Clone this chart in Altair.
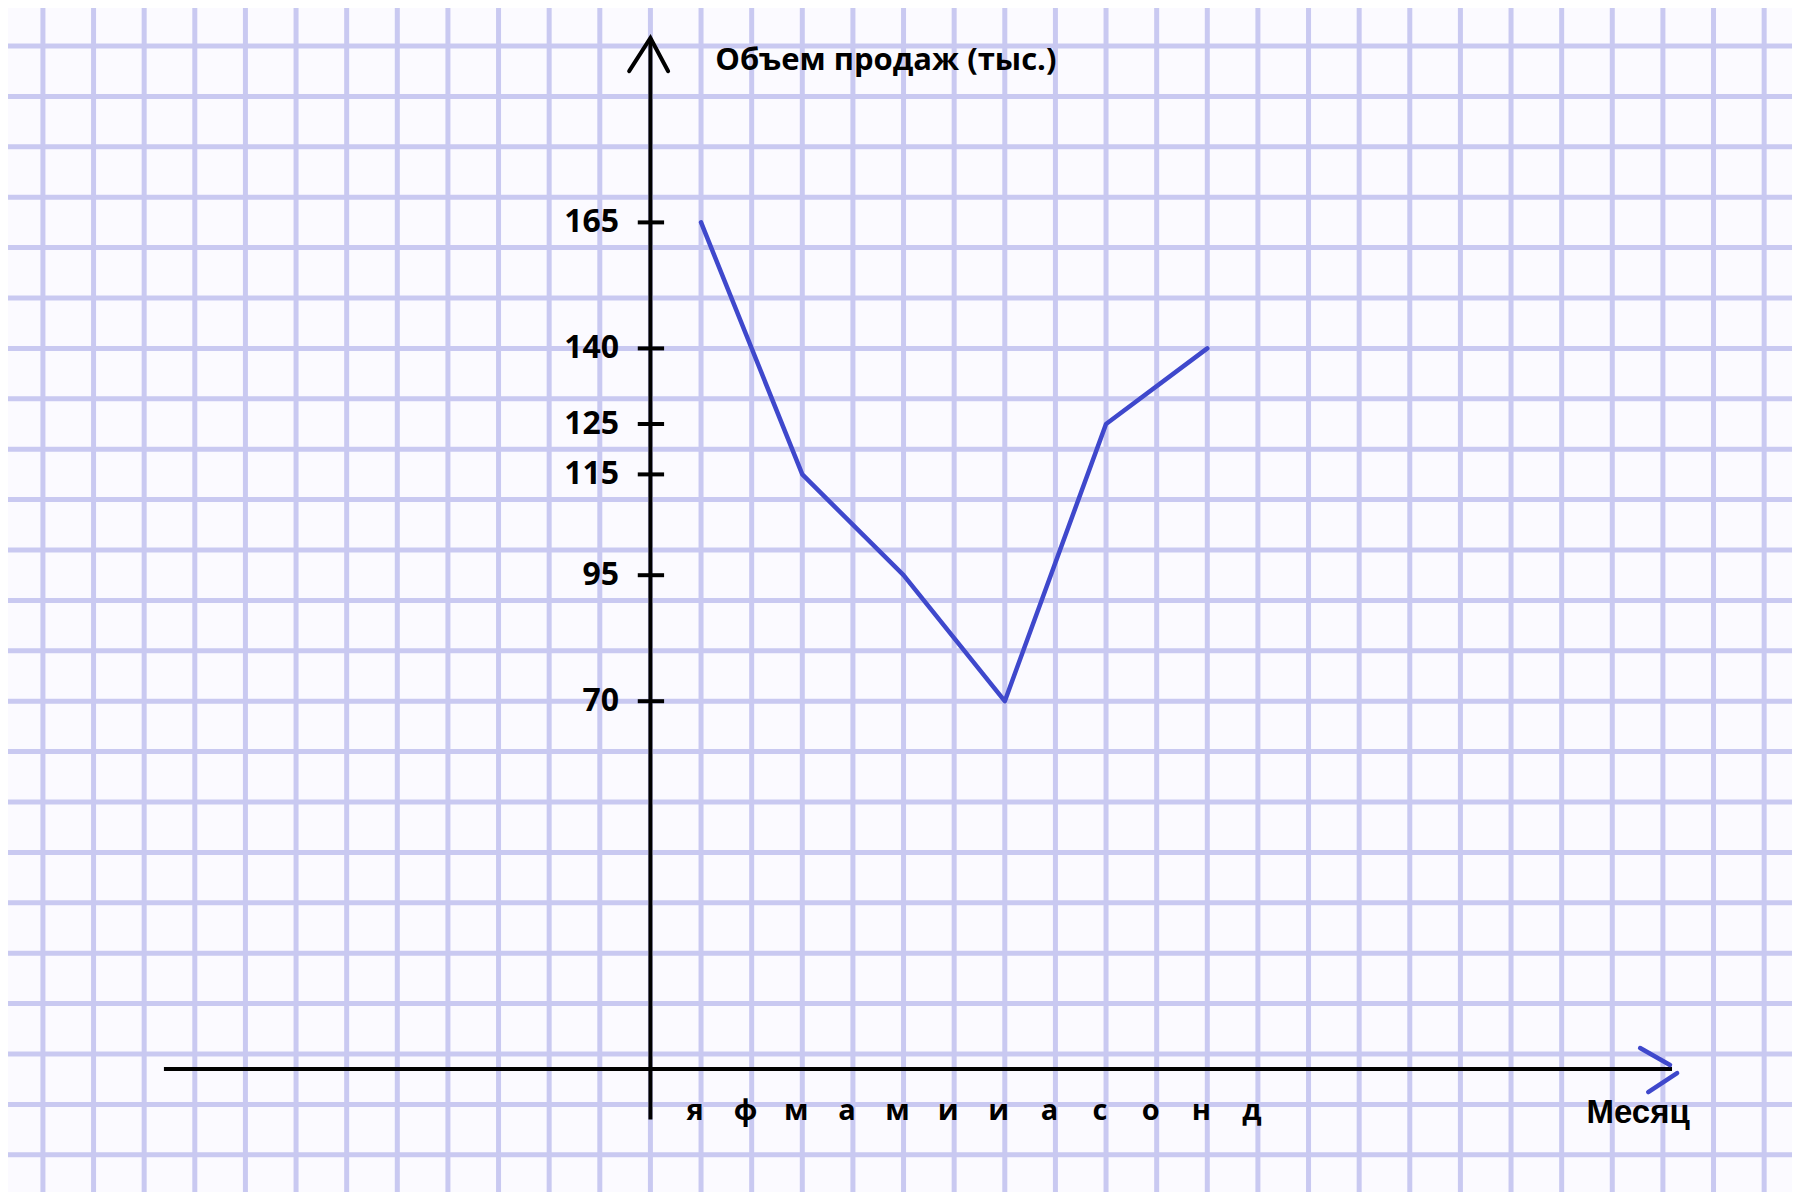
import altair as alt
import pandas as pd

# ---------------- data ----------------
months = ["я", "ф", "м", "а", "м", "и", "и", "а", "с", "о", "н", "д"]
point_months = [0, 2, 4, 6, 8, 10]          # months where the line has a vertex
sales = [165, 115, 95, 70, 125, 140]         # sales volume (thousands)
y_ticks = [165, 140, 125, 115, 95, 70]
y_title = "Объем продаж (тыс.)"
x_title = "Месяц"

# ---------------- layout / style ----------------
W, H = 1784, 1184
X_DOMAIN = [-13.69, 21.55]     # month units across the whole sheet
Y_DOMAIN = [-27.38, 207.54]    # value units across the whole sheet
GRID_X = list(range(-13, 22))           # graph paper: one cell per month
GRID_Y = list(range(-20, 201, 10))      # graph paper: one cell per 10 units
AXIS_X = -1.0      # vertical axis sits one cell left of January
AXIS_Y = -3.0      # horizontal axis sits just under zero
Y_AXIS_SPAN = (-13.0, 201.6)
X_AXIS_SPAN = (-10.61, 19.18)
TICK_SPAN = (-1.25, -0.73)
TICK_LABEL_X = -1.62
MONTH_LABEL_Y = -11.3
PAPER = "#fbfaff"
GRIDC = "#c9c9f1"
INK = "#000000"
PEN = "#3f48cc"
FONT = "Open Sans"

xs = alt.Scale(domain=X_DOMAIN, nice=False, zero=False)
ys = alt.Scale(domain=Y_DOMAIN, nice=False, zero=False)


def X(f, **kw):
    return alt.X(f, type="quantitative", scale=xs, axis=None, **kw)


def Y(f, **kw):
    return alt.Y(f, type="quantitative", scale=ys, axis=None, **kw)


# graph paper grid
gx = alt.Chart(pd.DataFrame({"m": GRID_X})).mark_rule(
    color=GRIDC, strokeWidth=5).encode(x=X("m"))
gy = alt.Chart(pd.DataFrame({"v": GRID_Y})).mark_rule(
    color=GRIDC, strokeWidth=5).encode(y=Y("v"))

line_df = pd.DataFrame({"m": point_months, "v": sales})
line = alt.Chart(line_df).mark_line(
    color=PEN, strokeWidth=4.5, strokeCap="round", strokeJoin="round"
).encode(x=X("m"), y=Y("v"))

# vertical axis
yaxis_df = pd.DataFrame({"m": [AXIS_X], "v1": [Y_AXIS_SPAN[0]], "v2": [Y_AXIS_SPAN[1]]})
yaxis = alt.Chart(yaxis_df).mark_rule(color=INK, strokeWidth=4).encode(
    x=X("m"), y=Y("v1"), y2="v2")

# arrowhead of vertical axis
yarrow_df = pd.DataFrame({"m": [-1.42, AXIS_X, -0.65],
                          "v": [195.0, Y_AXIS_SPAN[1], 195.0],
                          "o": [0, 1, 2]})
yarrow = alt.Chart(yarrow_df).mark_line(
    color=INK, strokeWidth=4, strokeCap="round", strokeJoin="miter").encode(
    x=X("m"), y=Y("v"), order="o:Q")

# horizontal axis
xaxis_df = pd.DataFrame({"v": [AXIS_Y], "m1": [X_AXIS_SPAN[0]], "m2": [X_AXIS_SPAN[1]]})
xaxis = alt.Chart(xaxis_df).mark_rule(color=INK, strokeWidth=4).encode(
    x=X("m1"), x2="m2", y=Y("v"))

# blue arrowhead of horizontal axis (two strokes)
xarrow_df = pd.DataFrame({"m1": [18.55, 18.71], "v1": [1.19, -7.54],
                          "m2": [19.14, 19.28], "v2": [-2.18, -3.77]})
xarrow = alt.Chart(xarrow_df).mark_rule(
    color=PEN, strokeWidth=4.5, strokeCap="round").encode(
    x=X("m1"), x2="m2", y=Y("v1"), y2="v2")

# tick marks on the vertical axis
tick_df = pd.DataFrame({"v": y_ticks,
                        "m1": [TICK_SPAN[0]] * len(y_ticks),
                        "m2": [TICK_SPAN[1]] * len(y_ticks),
                        "lab": [str(t) for t in y_ticks],
                        "mx": [TICK_LABEL_X] * len(y_ticks)})
ticks = alt.Chart(tick_df).mark_rule(color=INK, strokeWidth=4).encode(
    x=X("m1"), x2="m2", y=Y("v"))
tick_labels = alt.Chart(tick_df).mark_text(
    align="right", baseline="middle", font=FONT, fontWeight="bold",
    fontSize=32, color=INK).encode(x=X("mx"), y=Y("v"), text="lab:N")

# month letters
month_df = pd.DataFrame({"m": list(range(len(months))), "lab": months,
                         "v": [MONTH_LABEL_Y] * len(months)})
month_labels = alt.Chart(month_df).mark_text(
    align="center", baseline="middle", font=FONT, fontWeight="bold",
    fontSize=29, color=INK, dx=-6).encode(x=X("m"), y=Y("v"), text="lab:N")

# axis titles
xt_df = pd.DataFrame({"m": [18.51], "v": [-11.7], "lab": [x_title]})
xtitle = alt.Chart(xt_df).mark_text(
    align="center", baseline="middle", font="Liberation Sans", fontWeight="bold",
    fontSize=33, color=INK).encode(x=X("m"), y=Y("v"), text="lab:N")

yt_df = pd.DataFrame({"m": [0.28], "v": [197.0], "lab": [y_title]})
ytitle = alt.Chart(yt_df).mark_text(
    align="left", baseline="middle", font=FONT, fontWeight="bold",
    fontSize=31, color=INK).encode(x=X("m"), y=Y("v"), text="lab:N")

chart = alt.layer(
    gx, gy, line, yaxis, yarrow, xaxis, xarrow, ticks, tick_labels,
    month_labels, xtitle, ytitle
).properties(
    width=W, height=H, padding=0,
    autosize=alt.AutoSizeParams(type="none"),
    background=PAPER,
).configure_view(strokeWidth=0, fill=PAPER)

chart.save("out.html", embed_options={"renderer": "svg", "actions": False})
